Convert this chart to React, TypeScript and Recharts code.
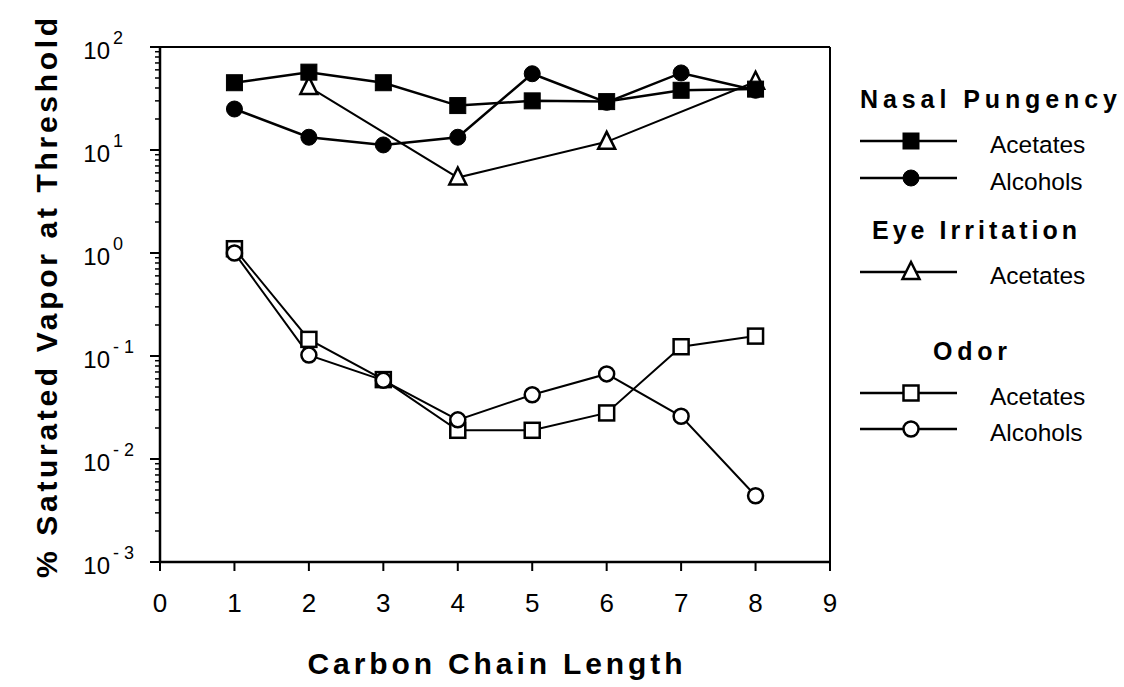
import React from 'react';
import { LineChart, Line, XAxis, YAxis, ReferenceLine, Customized } from 'recharts';

const carbonChain = [1, 2, 3, 4, 5, 6, 7, 8];
const nasalAcetates = [45, 57, 45, 27, 30, 29.5, 38, 39];
const nasalAlcohols = [25, 13.3, 11.2, 13.3, 55, 29, 56, 38];
const eyeAcetates = [null, 41, null, 5.4, null, 12, null, 46];
const odorAcetates = [1.1, 0.145, 0.059, 0.019, 0.019, 0.028, 0.123, 0.156];
const odorAlcohols = [1.0, 0.102, 0.058, 0.024, 0.042, 0.067, 0.026, 0.0044];

const xTicks = [0, 1, 2, 3, 4, 5, 6, 7, 8, 9];
const yMajorTicks = [0.001, 0.01, 0.1, 1, 10, 100];
const yMinorFactors = [2, 3, 4, 5, 6, 7, 8, 9];

const yTicks: number[] = [];
yMajorTicks.forEach((m, i) => {
  yTicks.push(m);
  if (i < yMajorTicks.length - 1) yMinorFactors.forEach((f) => yTicks.push(+(m * f).toPrecision(6)));
});

const data = carbonChain.map((c, i) => ({
  c,
  nasalAcetates: nasalAcetates[i],
  nasalAlcohols: nasalAlcohols[i],
  eyeAcetates: eyeAcetates[i],
  odorAcetates: odorAcetates[i],
  odorAlcohols: odorAlcohols[i],
}));

const FONT = '"Liberation Sans", Arial, Helvetica, sans-serif';

type MarkerKind = 'filledSquare' | 'filledCircle' | 'openTriangle' | 'openSquare' | 'openCircle';

function Marker({ kind, cx, cy }: { kind: MarkerKind; cx: number; cy: number }) {
  switch (kind) {
    case 'filledSquare':
      return <rect x={cx - 8} y={cy - 8} width={16} height={16} fill="#000" stroke="#000" strokeWidth={1} />;
    case 'filledCircle':
      return <circle cx={cx} cy={cy} r={8} fill="#000" stroke="#000" strokeWidth={1} />;
    case 'openTriangle':
      return (
        <polygon
          points={`${cx},${cy - 10} ${cx - 8.5},${cy + 7} ${cx + 8.5},${cy + 7}`}
          fill="#fff"
          stroke="#000"
          strokeWidth={2.5}
          strokeLinejoin="miter"
        />
      );
    case 'openSquare':
      return <rect x={cx - 7.5} y={cy - 7.5} width={15} height={15} fill="#fff" stroke="#000" strokeWidth={2.5} />;
    case 'openCircle':
      return <circle cx={cx} cy={cy} r={7.5} fill="#fff" stroke="#000" strokeWidth={2.5} />;
  }
  return null;
}

const makeDot = (kind: MarkerKind) => (props: any) => {
  const { cx, cy, key } = props;
  if (cx == null || cy == null || props.value == null) return <g key={key} />;
  return (
    <g key={key}>
      <Marker kind={kind} cx={cx} cy={cy} />
    </g>
  );
};

function YTick(props: any) {
  const { x, y, payload } = props;
  const v = payload.value as number;
  const lg = Math.log10(v);
  const exp = Math.round(lg);
  const isMajor = Math.abs(lg - exp) < 1e-6;
  if (!isMajor) {
    return <line x1={x - 5} x2={x} y1={y} y2={y} stroke="#000" strokeWidth={1.5} />;
  }
  const expStr = exp < 0 ? `- ${-exp}` : `${exp}`;
  return (
    <g>
      <line x1={x - 10} x2={x} y1={y} y2={y} stroke="#000" strokeWidth={2} />
      <text x={110} y={y + 12} textAnchor="end" fontFamily={FONT} fontSize={24} fill="#000">
        10
      </text>
      <text x={113} y={y - 3} textAnchor="start" fontFamily={FONT} fontSize={18} fill="#000">
        {expStr}
      </text>
    </g>
  );
}

function XTick(props: any) {
  const { x, y, payload } = props;
  return (
    <text x={x} y={y} dy={27} textAnchor="middle" fontFamily={FONT} fontSize={26} fill="#000">
      {payload.value}
    </text>
  );
}

const legendGroups: { title: string; titleX: number; titleY: number; titleLen: number; rows: { kind: MarkerKind; label: string; y: number }[] }[] = [
  {
    title: 'Nasal Pungency',
    titleX: 860,
    titleY: 108,
    titleLen: 257,
    rows: [
      { kind: 'filledSquare', label: 'Acetates', y: 141 },
      { kind: 'filledCircle', label: 'Alcohols', y: 178 },
    ],
  },
  {
    title: 'Eye Irritation',
    titleX: 872,
    titleY: 239,
    titleLen: 205,
    rows: [{ kind: 'openTriangle', label: 'Acetates', y: 272 }],
  },
  {
    title: 'Odor',
    titleX: 933,
    titleY: 360,
    titleLen: 74,
    rows: [
      { kind: 'openSquare', label: 'Acetates', y: 393 },
      { kind: 'openCircle', label: 'Alcohols', y: 429 },
    ],
  },
];

function Decorations() {
  return (
    <g>
      <text
        transform="translate(46, 298) rotate(-90)"
        x={0}
        y={0}
        textAnchor="middle"
        dominantBaseline="central"
        fontFamily={FONT}
        fontWeight="bold"
        fontSize={30}
        textLength={560}
        lengthAdjust="spacing"
        fill="#000"
      >
        % Saturated Vapor at Threshold
      </text>
      <text
        x={495}
        y={674}
        textAnchor="middle"
        fontFamily={FONT}
        fontWeight="bold"
        fontSize={30}
        textLength={375}
        lengthAdjust="spacing"
        fill="#000"
      >
        Carbon Chain Length
      </text>
      {legendGroups.map((g) => (
        <g key={g.title}>
          <text
            x={g.titleX}
            y={g.titleY}
            fontFamily={FONT}
            fontWeight="bold"
            fontSize={25}
            textLength={g.titleLen}
            lengthAdjust="spacing"
            fill="#000"
          >
            {g.title}
          </text>
          {g.rows.map((r) => (
            <g key={g.title + r.label}>
              <line x1={860} x2={957} y1={r.y} y2={r.y} stroke="#000" strokeWidth={2.5} />
              <Marker kind={r.kind} cx={911} cy={r.y} />
              <text x={990} y={r.y + 12} fontFamily={FONT} fontSize={24.5} fill="#000">
                {r.label}
              </text>
            </g>
          ))}
        </g>
      ))}
    </g>
  );
}

export default function App() {
  return (
    <div style={{ position: 'absolute', left: 0, top: 0, width: 1124, height: 687, background: '#fff' }}>
      <LineChart width={1124} height={687} data={data} margin={{ top: 47, right: 294, bottom: 65, left: 60 }}>
        <XAxis
          dataKey="c"
          type="number"
          domain={[0, 9]}
          ticks={xTicks}
          interval={0}
          axisLine={{ stroke: '#000', strokeWidth: 2.5 }}
          tickLine={{ stroke: '#000', strokeWidth: 2 }}
          tickSize={9}
          tickMargin={14}
          tick={<XTick />}
          height={60}
        />
        <YAxis
          type="number"
          scale="log"
          domain={[0.001, 100]}
          ticks={yTicks}
          interval={0}
          allowDataOverflow
          axisLine={{ stroke: '#000', strokeWidth: 2.5 }}
          tickLine={false}
          tickSize={0}
          tickMargin={0}
          tick={<YTick />}
          width={100}
        />
        <ReferenceLine y={100} stroke="#000" strokeWidth={2} />
        <ReferenceLine x={9} stroke="#000" strokeWidth={2} />
        <Line
          dataKey="odorAcetates"
          stroke="#000"
          strokeWidth={2}
          dot={makeDot('openSquare')}
          isAnimationActive={false}
        />
        <Line
          dataKey="odorAlcohols"
          stroke="#000"
          strokeWidth={2}
          dot={makeDot('openCircle')}
          isAnimationActive={false}
        />
        <Line
          dataKey="eyeAcetates"
          stroke="#000"
          strokeWidth={2}
          connectNulls
          dot={makeDot('openTriangle')}
          isAnimationActive={false}
        />
        <Line
          dataKey="nasalAlcohols"
          stroke="#000"
          strokeWidth={2.5}
          dot={makeDot('filledCircle')}
          isAnimationActive={false}
        />
        <Line
          dataKey="nasalAcetates"
          stroke="#000"
          strokeWidth={2.5}
          dot={makeDot('filledSquare')}
          isAnimationActive={false}
        />
        <Customized component={Decorations} />
      </LineChart>
    </div>
  );
}
